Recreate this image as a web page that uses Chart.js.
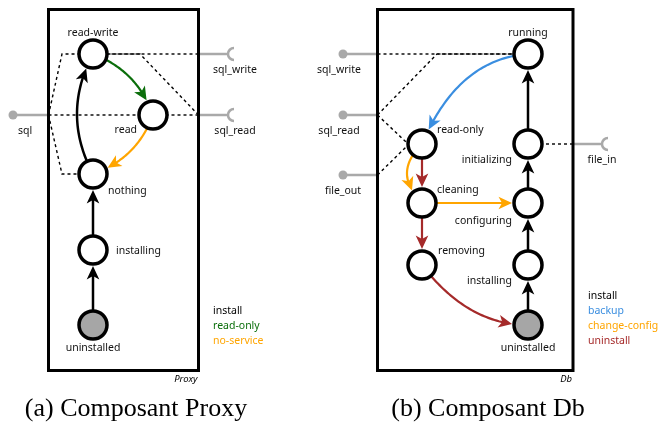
<!DOCTYPE html>
<html>
<head>
<meta charset="utf-8">
<script src="https://cdn.jsdelivr.net/npm/chart.js@4.4.1/dist/chart.umd.min.js"></script>
<style>
  html, body { margin: 0; padding: 0; background: #fff; }
  #diagramme { display: block; }
</style>
</head>
<body>
<canvas id="diagramme" width="659" height="423"></canvas>
<script>
// ============================================================
//  Composants Proxy et Db · machines à états
// ============================================================

// --- Proxy : états (position dans le plan du dessin)
const proxyStates  = ['read-write', 'read', 'nothing', 'installing', 'uninstalled'];
const proxyX       = [93, 153, 93, 93, 93];
const proxyY       = [54, 115, 174, 250, 325];
const proxyInitial = 'uninstalled';

// transitions : [départ, arrivée, comportement]
const proxyTransitions = [
  ['uninstalled', 'installing', 'install'],
  ['installing', 'nothing', 'install'],
  ['nothing', 'read-write', 'install'],
  ['read-write', 'read', 'read-only'],
  ['read', 'nothing', 'no-service'],
];
const proxyBehaviors = ['install', 'read-only', 'no-service'];

// ports : nom, type (provide = point, use = prise), position
const proxyPorts     = ['sql', 'sql_write', 'sql_read'];
const proxyPortKinds = ['provide', 'use', 'use'];
const proxyPortX     = [13, 228, 228];
const proxyPortY     = [115, 54, 115];

// liaisons port ↔ état (pointillés)
const proxyBindings = [
  ['sql', 'read-write'],
  ['sql', 'read'],
  ['sql', 'nothing'],
  ['sql_write', 'read-write'],
  ['sql_read', 'read-write'],
  ['sql_read', 'read'],
];

// --- Db
const dbStates  = ['running', 'read-only', 'initializing', 'cleaning', 'configuring', 'removing', 'installing', 'uninstalled'];
const dbX       = [528, 422, 528, 422, 528, 422, 528, 528];
const dbY       = [54, 144, 144, 203, 203, 265, 265, 325];
const dbInitial = 'uninstalled';

const dbTransitions = [
  ['uninstalled', 'installing', 'install'],
  ['installing', 'configuring', 'install'],
  ['configuring', 'initializing', 'install'],
  ['initializing', 'running', 'install'],
  ['running', 'read-only', 'backup'],
  ['read-only', 'cleaning', 'uninstall'],
  ['read-only', 'cleaning', 'change-config'],
  ['cleaning', 'configuring', 'change-config'],
  ['cleaning', 'removing', 'uninstall'],
  ['removing', 'uninstalled', 'uninstall'],
];
const dbBehaviors = ['install', 'backup', 'change-config', 'uninstall'];

const dbPorts     = ['sql_write', 'sql_read', 'file_out', 'file_in'];
const dbPortKinds = ['provide', 'provide', 'provide', 'use'];
const dbPortX     = [343, 343, 343, 602];
const dbPortY     = [54, 115, 175, 144];

const dbBindings = [
  ['sql_write', 'running'],
  ['sql_read', 'running'],
  ['sql_read', 'read-only'],
  ['file_out', 'read-only'],
  ['file_in', 'initializing'],
];

const captions = ['(a) Composant Proxy', '(b) Composant Db'];

// ============================================================
//  Mise en forme
// ============================================================
const COULEURS = {
  'install':       '#000000',
  'read-only':     '#0b6e0b',
  'no-service':    '#ffa500',
  'backup':        '#3a8ee0',
  'change-config': '#ffa500',
  'uninstall':     '#a52a2a',
};
const GRIS      = '#a9a9a9';
const FONT      = '"Noto Sans", "Open Sans", sans-serif';
const R_NODE    = 14;
const R_OUT     = 16;
const FLECHE_L  = 13.5;
const FLECHE_W  = 6.3;
const FLECHE_CREUX = 3.5;

const panneaux = [
  {
    nom: 'Proxy', states: proxyStates, xs: proxyX, ys: proxyY, initial: proxyInitial,
    transitions: proxyTransitions, behaviors: proxyBehaviors,
    ports: proxyPorts, kinds: proxyPortKinds, portX: proxyPortX, portY: proxyPortY,
    bindings: proxyBindings, caption: captions[0],
    cadre: { x0: 48.5, y0: 9.5, x1: 198.5, y1: 370.5 },
    courbes: [[0, 0], [0, 0], [-32, 0], [14, -14], [14, 14]],
    coudes:  [[[62, 54]], [], [[62, 174]], [], [[140, 54]], []],
    etiquettes: {
      'read-write':  ['center', 0, -21],
      'read':        ['right', -16, 15],
      'nothing':     ['left', 15, 17],
      'installing':  ['left', 23, 1],
      'uninstalled': ['center', 0, 23],
    },
    portDx: [12, 7, 7],
    legende: { x: 213, yBas: 341 },
    legendeCentre: 136,
  },
  {
    nom: 'Db', states: dbStates, xs: dbX, ys: dbY, initial: dbInitial,
    transitions: dbTransitions, behaviors: dbBehaviors,
    ports: dbPorts, kinds: dbPortKinds, portX: dbPortX, portY: dbPortY,
    bindings: dbBindings, caption: captions[1],
    cadre: { x0: 377.5, y0: 9.5, x1: 573, y1: 370.5 },
    courbes: [[0, 0], [0, 0], [0, 0], [0, 0], [-17, -40], [0, 0], [-30, 0], [0, 0], [0, 0], [-7, 30]],
    coudes:  [[], [[437, 54]], [[406, 142]], [[406, 147]], []],
    etiquettes: {
      'running':      ['center', 0, -21],
      'read-only':    ['left', 15, -14],
      'initializing': ['right', -16, 16],
      'cleaning':     ['left', 15, -13],
      'configuring':  ['right', -16, 18],
      'removing':     ['left', 16, -14],
      'installing':   ['right', -16, 16],
      'uninstalled':  ['center', 0, 23],
    },
    portDx: [-4, -4, 0, 0],
    legende: { x: 588, yBas: 341 },
    legendeCentre: 488,
  },
];

// ============================================================
//  Dessin
// ============================================================
function pos(chart, x, y) {
  return { x: chart.scales.x.getPixelForValue(x), y: chart.scales.y.getPixelForValue(y) };
}

function etat(chart, p, nom) {
  const i = p.states.indexOf(nom);
  return pos(chart, p.xs[i], p.ys[i]);
}

function dessinerTransition(ctx, a, b, bend, couleur) {
  const c = { x: (a.x + b.x) / 2 + bend[0], y: (a.y + b.y) / 2 + bend[1] };
  const at = t => ({
    x: (1 - t) * (1 - t) * a.x + 2 * (1 - t) * t * c.x + t * t * b.x,
    y: (1 - t) * (1 - t) * a.y + 2 * (1 - t) * t * c.y + t * t * b.y,
  });
  // pointe sur le bord du cercle d'arrivée
  let lo = 0.3, hi = 1;
  for (let i = 0; i < 40; i++) {
    const m = (lo + hi) / 2, q = at(m);
    if (Math.hypot(q.x - b.x, q.y - b.y) > R_OUT) lo = m; else hi = m;
  }
  const tip = at(lo);
  let lo2 = 0, hi2 = lo;
  for (let i = 0; i < 40; i++) {
    const m = (lo2 + hi2) / 2, q = at(m);
    if (Math.hypot(q.x - tip.x, q.y - tip.y) > FLECHE_L) lo2 = m; else hi2 = m;
  }
  const base = at(lo2);

  ctx.strokeStyle = couleur;
  ctx.lineWidth = couleur === '#000000' ? 2.5 : 2.2;
  ctx.setLineDash([]);
  ctx.beginPath();
  ctx.moveTo(a.x, a.y);
  const n = 40;
  for (let k = 1; k <= n; k++) {
    const q = at(lo2 * k / n);
    ctx.lineTo(q.x, q.y);
  }
  const q2 = at(lo2 + (lo - lo2) * 0.3);
  ctx.lineTo(q2.x, q2.y);
  ctx.stroke();

  const len = Math.hypot(tip.x - base.x, tip.y - base.y);
  const ux = (tip.x - base.x) / len, uy = (tip.y - base.y) / len;
  const nx = -uy, ny = ux;
  ctx.fillStyle = couleur;
  ctx.beginPath();
  ctx.moveTo(tip.x, tip.y);
  ctx.lineTo(tip.x - FLECHE_L * ux + FLECHE_W * nx, tip.y - FLECHE_L * uy + FLECHE_W * ny);
  ctx.lineTo(tip.x - (FLECHE_L - FLECHE_CREUX) * ux, tip.y - (FLECHE_L - FLECHE_CREUX) * uy);
  ctx.lineTo(tip.x - FLECHE_L * ux - FLECHE_W * nx, tip.y - FLECHE_L * uy - FLECHE_W * ny);
  ctx.closePath();
  ctx.fill();
}

const fondPlugin = {
  id: 'fond',
  beforeDatasetsDraw(chart) {
    const ctx = chart.ctx;
    ctx.save();
    panneaux.forEach(p => {
      const f0 = pos(chart, p.cadre.x0, p.cadre.y0);
      const f1 = pos(chart, p.cadre.x1, p.cadre.y1);

      // ports
      p.ports.forEach((nom, i) => {
        const pt = pos(chart, p.portX[i], p.portY[i]);
        const bord = pt.x < f0.x ? f0.x : f1.x;
        ctx.strokeStyle = GRIS;
        ctx.lineWidth = 2.5;
        ctx.setLineDash([]);
        ctx.beginPath();
        ctx.moveTo(bord, pt.y);
        ctx.lineTo(pt.x, pt.y);
        ctx.stroke();
        if (p.kinds[i] === 'use') {
          ctx.beginPath();
          ctx.arc(pt.x + 6, pt.y, 6, Math.PI / 2, Math.PI * 1.5);
          ctx.stroke();
        }
      });

      // liaisons
      ctx.strokeStyle = '#000';
      ctx.lineWidth = 1.4;
      ctx.setLineDash([3, 3]);
      p.bindings.forEach(([port, st], i) => {
        const j = p.ports.indexOf(port);
        const pt = pos(chart, p.portX[j], p.portY[j]);
        const bord = pt.x < f0.x ? f0.x : f1.x;
        const s = etat(chart, p, st);
        ctx.beginPath();
        ctx.moveTo(bord, pt.y);
        p.coudes[i].forEach(([cx, cy]) => {
          const c = pos(chart, cx, cy);
          ctx.lineTo(c.x, c.y);
        });
        ctx.lineTo(s.x, s.y);
        ctx.stroke();
      });
      ctx.setLineDash([]);

      // cadre
      ctx.strokeStyle = '#000';
      ctx.lineWidth = 3;
      ctx.strokeRect(f0.x, f0.y, f1.x - f0.x, f1.y - f0.y);

      // transitions
      p.transitions.forEach(([de, vers, comp], i) => {
        dessinerTransition(ctx, etat(chart, p, de), etat(chart, p, vers), p.courbes[i], COULEURS[comp]);
      });
    });
    ctx.restore();
  },
  afterDatasetsDraw(chart) {
    const ctx = chart.ctx;
    ctx.save();
    ctx.textBaseline = 'middle';
    panneaux.forEach(p => {
      ctx.font = `10.5px ${FONT}`;
      ctx.fillStyle = '#111';
      p.states.forEach(nom => {
        const s = etat(chart, p, nom);
        const [align, dx, dy] = p.etiquettes[nom];
        ctx.textAlign = align;
        ctx.fillText(nom, s.x + dx, s.y + dy);
      });
      p.ports.forEach((nom, i) => {
        const pt = pos(chart, p.portX[i], p.portY[i]);
        ctx.textAlign = 'center';
        ctx.fillText(nom, pt.x + p.portDx[i], pt.y + 16);
      });

      // légende des comportements
      ctx.textAlign = 'left';
      const nb = p.behaviors.length;
      p.behaviors.forEach((b, i) => {
        ctx.fillStyle = COULEURS[b];
        const q = pos(chart, p.legende.x, p.legende.yBas - (nb - 1 - i) * 15);
        ctx.fillText(b, q.x, q.y);
      });

      // nom du composant
      ctx.fillStyle = '#000';
      ctx.font = `italic 9.5px ${FONT}`;
      ctx.textAlign = 'right';
      const qn = pos(chart, p.cadre.x1 - 1, p.cadre.y1 + 9);
      ctx.fillText(p.nom, qn.x, qn.y);

      // légende de la figure
      ctx.font = '26px "Liberation Serif", serif';
      ctx.textAlign = 'center';
      const qc = pos(chart, p.legendeCentre, 409);
      ctx.fillText(p.caption, qc.x, qc.y);
    });
    ctx.restore();
  },
};

const datasets = panneaux.map(p => ({
  label: p.nom,
  data: p.xs.map((x, i) => ({ x, y: p.ys[i] })),
  backgroundColor: p.states.map(s => (s === p.initial ? '#a6a6a6' : '#ffffff')),
  borderColor: '#000',
  borderWidth: 3.5,
  pointRadius: R_NODE,
  pointHoverRadius: R_NODE,
}));

datasets.push({
  label: 'ports',
  data: panneaux.flatMap(p => p.ports
    .map((n, i) => ({ x: p.portX[i], y: p.portY[i], k: p.kinds[i] }))
    .filter(d => d.k === 'provide')),
  backgroundColor: GRIS,
  borderWidth: 0,
  pointRadius: 4.5,
});

new Chart(document.getElementById('diagramme'), {
  type: 'scatter',
  data: { datasets },
  options: {
    responsive: false,
    animation: false,
    events: [],
    layout: { padding: 0, autoPadding: false },
    scales: {
      x: { type: 'linear', min: 0, max: 659, display: false },
      y: { type: 'linear', min: 0, max: 423, reverse: true, display: false },
    },
    plugins: { legend: { display: false }, tooltip: { enabled: false } },
  },
  plugins: [fondPlugin],
});
</script>
</body>
</html>
